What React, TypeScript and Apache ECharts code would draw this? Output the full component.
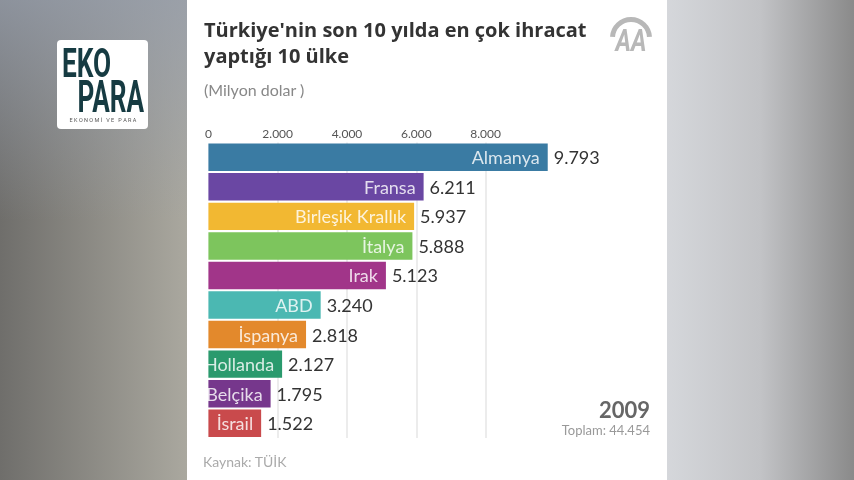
import React, { useEffect, useRef } from "react";
import * as echarts from "echarts";

const countries = ["Almanya", "Fransa", "Birleşik Krallık", "İtalya", "Irak", "ABD", "İspanya", "Hollanda", "Belçika", "İsrail"];
const values = [9793, 6211, 5937, 5888, 5123, 3240, 2818, 2127, 1795, 1522];
const barColors = ["#3a7ba3", "#6a47a3", "#f2b832", "#7dc55d", "#a13589", "#4bb8b2", "#e3892c", "#2a9a6d", "#76378c", "#c94a4c"];
const axisMin = 0;
const axisMax = 10000;
const axisStep = 2000;
const lastTick = 8000;
const titleLine1 = "Türkiye'nin son 10 yılda en çok ihracat";
const titleLine2 = "yaptığı 10 ülke";
const subtitle = "(Milyon dolar )";
const yearText = "2009";
const totalText = "Toplam: 44.454";
const sourceText = "Kaynak: TÜİK";

const fmt = (v: number) => String(v).replace(/\B(?=(\d{3})+(?!\d))/g, ".");

export default function App() {
  const ref = useRef<HTMLDivElement>(null);
  useEffect(() => {
    if (!ref.current) return;
    const chart = echarts.init(ref.current, undefined, { renderer: "svg" });
    const font = "Lato";
    chart.setOption({
      animation: false,
      textStyle: { fontFamily: font },
      grid: { left: 208.4, top: 142.5, width: 346.5, height: 295.5, containLabel: false },
      xAxis: {
        type: "value",
        position: "top",
        min: axisMin,
        max: axisMax,
        interval: axisStep,
        axisLine: { show: false },
        axisTick: { show: false },
        splitLine: { show: true, showMinLine: false, showMaxLine: false, lineStyle: { color: "#e6e6e6", width: 1.5 } },
        axisLabel: {
          margin: 3,
          fontSize: 12,
          color: "#555",
          fontFamily: font,
          formatter: (v: number) => (v > lastTick ? "" : fmt(v)),
        },
      },
      yAxis: { type: "category", inverse: true, data: countries, show: false },
      series: [
        {
          type: "bar",
          barCategoryGap: "7%",
          barGap: "-100%",
          data: values.map((v, i) => ({ value: v, itemStyle: { color: barColors[i] } })),
          label: {
            show: true,
            position: "insideRight",
            formatter: "{b}",
            color: "rgba(255,255,255,0.82)",
            fontSize: 18,
            fontFamily: font,
            offset: [-3, 0],
          },
        },
        {
          type: "bar",
          barCategoryGap: "7%",
          barGap: "-100%",
          silent: true,
          data: values,
          itemStyle: { color: "rgba(0,0,0,0)" },
          label: {
            show: true,
            position: "right",
            distance: 6,
            formatter: (p: any) => fmt(p.value),
            color: "#333",
            fontSize: 18,
            fontFamily: font,
          },
        },
      ],
      graphic: [
        {
          type: "rect", z: -100, silent: true,
          shape: { x: 0, y: 0, width: 187, height: 480 },
          style: { fill: { type: "linear", x: 0, y: 0, x2: 1, y2: 0, colorStops: [{ offset: 0, color: "#6f6e6b" }, { offset: 1, color: "#aaa89f" }] } },
        },
        {
          type: "rect", z: -99, silent: true,
          shape: { x: 0, y: 0, width: 187, height: 220 },
          style: { fill: { type: "linear", x: 0, y: 0, x2: 0, y2: 1, colorStops: [{ offset: 0, color: "rgba(150,158,172,0.75)" }, { offset: 1, color: "rgba(150,158,172,0)" }] } },
        },
        {
          type: "rect", z: -100, silent: true,
          shape: { x: 667, y: 0, width: 187, height: 480 },
          style: { fill: { type: "linear", x: 0, y: 0, x2: 1, y2: 0, colorStops: [{ offset: 0, color: "#d5d7db" }, { offset: 0.5, color: "#c2c3c6" }, { offset: 1, color: "#8a8a8a" }] } },
        },
        {
          type: "rect", z: -100, silent: true,
          shape: { x: 187, y: 0, width: 480, height: 480 },
          style: { fill: "#ffffff" },
        },
        {
          type: "rect", z: 50, silent: true,
          shape: { x: 187, y: 140, width: 21, height: 300 },
          style: { fill: "#ffffff" },
        },
        // EKO PARA logo
        {
          type: "rect", z: 10, silent: true,
          shape: { x: 57, y: 40, width: 91, height: 89, r: 4 },
          style: { fill: "#ffffff" },
        },
        {
          type: "text", z: 11, silent: true, x: 62, y: 63, scaleX: 0.64,
          style: { text: "EKO", fontSize: 41, fontWeight: "bold", fontFamily: "Roboto", fill: "#163b42", align: "left", verticalAlign: "middle" },
        },
        {
          type: "text", z: 11, silent: true, x: 144, y: 97, scaleX: 0.58,
          style: { text: "PARA", fontSize: 45, fontWeight: "bold", fontFamily: "Roboto", fill: "#163b42", align: "right", verticalAlign: "middle" },
        },
        {
          type: "text", z: 11, silent: true, x: 103, y: 120,
          style: { text: "E K O N O M İ   V E   P A R A", fontSize: 5.5, fontFamily: "Roboto", fill: "#555", align: "center", verticalAlign: "middle" },
        },
        // AA logo
        {
          type: "arc", z: 10, silent: true,
          shape: { cx: 631, cy: 38, r: 18.5, startAngle: Math.PI * 1.02, endAngle: Math.PI * 1.98 },
          style: { stroke: "#b8b8b8", lineWidth: 5, fill: null },
        },
        {
          type: "text", z: 10, silent: true, x: 631, y: 40, scaleX: 0.85, scaleY: 1.1,
          style: { text: "AA", fontSize: 28, fontWeight: "bold", fontStyle: "italic", fontFamily: "Roboto", fill: "#b8b8b8", align: "center", verticalAlign: "middle" },
        },
        // titles
        {
          type: "text", z: 10, silent: true, x: 204, y: 29,
          style: { text: titleLine1, fontSize: 20, fontWeight: "bold", fontFamily: "Open Sans", fill: "#333", align: "left", verticalAlign: "middle" },
        },
        {
          type: "text", z: 10, silent: true, x: 204, y: 55.5,
          style: { text: titleLine2, fontSize: 20, fontWeight: "bold", fontFamily: "Open Sans", fill: "#333", align: "left", verticalAlign: "middle" },
        },
        {
          type: "text", z: 10, silent: true, x: 204, y: 89,
          style: { text: subtitle, fontSize: 16, fontFamily: font, fill: "#888", align: "left", verticalAlign: "middle" },
        },
        {
          type: "text", z: 10, silent: true, x: 650, y: 409,
          style: { text: yearText, fontSize: 22, fontWeight: "bold", fontFamily: font, fill: "#666", align: "right", verticalAlign: "middle" },
        },
        {
          type: "text", z: 10, silent: true, x: 650, y: 430,
          style: { text: totalText, fontSize: 13, fontFamily: font, fill: "#999", align: "right", verticalAlign: "middle" },
        },
        {
          type: "text", z: 10, silent: true, x: 203, y: 461,
          style: { text: sourceText, fontSize: 14, fontFamily: font, fill: "#aaa", align: "left", verticalAlign: "middle" },
        },
      ],
    });
    return () => chart.dispose();
  }, []);
  return <div ref={ref} style={{ position: "fixed", left: 0, top: 0, width: 854, height: 480 }} />;
}
